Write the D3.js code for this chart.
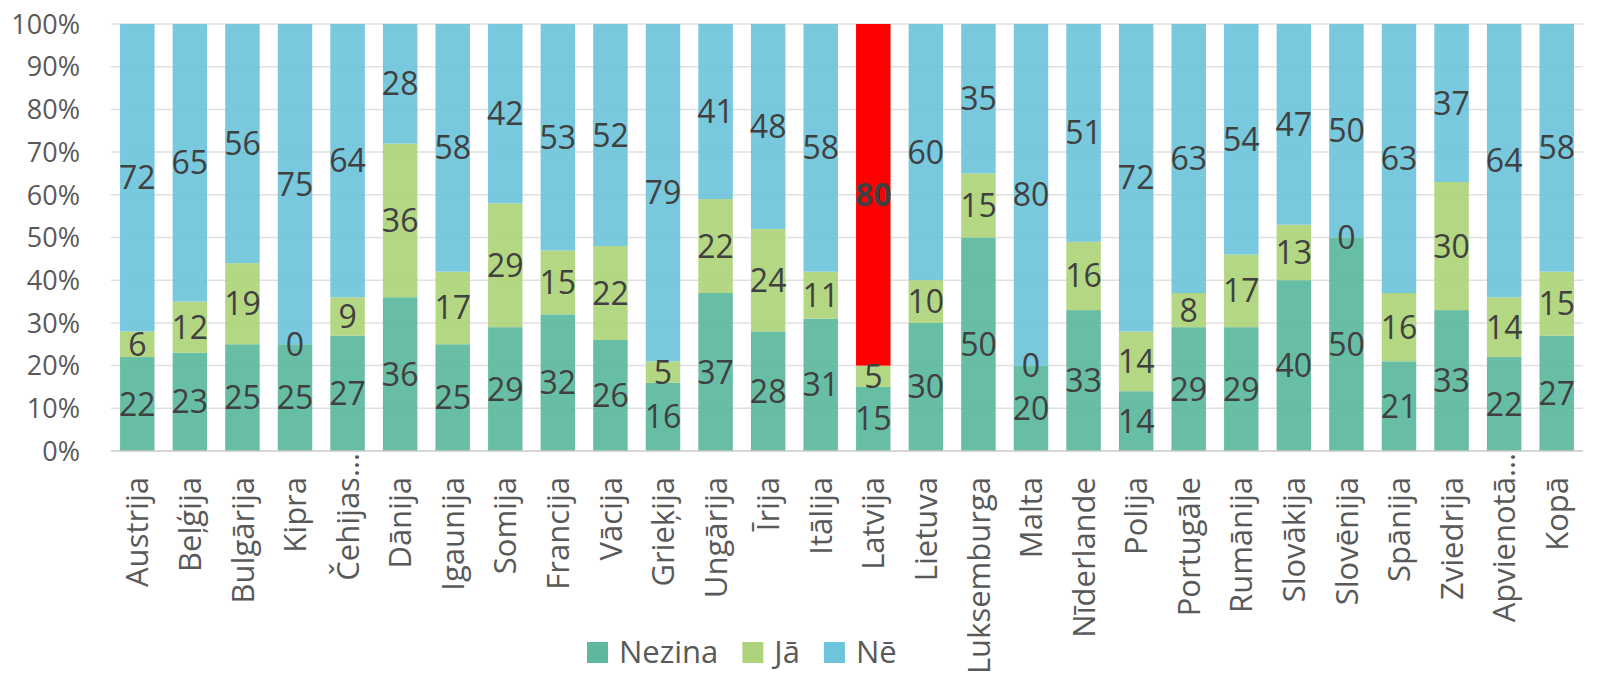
<!DOCTYPE html>
<html>
<head>
<meta charset="utf-8">
<script src="https://cdn.jsdelivr.net/npm/d3@7"></script>
<style>
  html, body { margin: 0; padding: 0; background: #fff; }
  svg { display: block; font-family: "Open Sans", "Noto Sans", sans-serif; }
</style>
</head>
<body>
<svg id="chart" width="1621" height="676"></svg>
<script>
// ---- data ----
const categories = ["Austrija","Beļģija","Bulgārija","Kipra","Čehijas…","Dānija","Igaunija","Somija","Francija","Vācija","Grieķija","Ungārija","Īrija","Itālija","Latvija","Lietuva","Luksemburga","Malta","Nīderlande","Polija","Portugāle","Rumānija","Slovākija","Slovēnija","Spānija","Zviedrija","Apvienotā…","Kopā"];
const nezina = [22,23,25,25,27,36,25,29,32,26,16,37,28,31,15,30,50,20,33,14,29,29,40,50,21,33,22,27];
const ja     = [6,12,19,0,9,36,17,29,15,22,5,22,24,11,5,10,15,0,16,14,8,17,13,0,16,30,14,15];
const ne     = [72,65,56,75,64,28,58,42,53,52,79,41,48,58,80,60,35,80,51,72,63,54,47,50,63,37,64,58];
const seriesNames = ["Nezina","Jā","Nē"];
const yTicks = [0,10,20,30,40,50,60,70,80,90,100];
const highlight = "Latvija";

(function () {
// ---- styles ----
const colors = {"Nezina":"#5db89e","Jā":"#aed47b","Nē":"#6ec4db"};
const highlightColor = "#ff0000";

const svg = d3.select("#chart");
const pLeft = 111, pRight = 1583, pTop = 24, pBottom = 451;

const x = d3.scaleBand().domain(categories).range([pLeft, pRight]).paddingInner(0.344).paddingOuter(0.172);
const y = d3.scaleLinear().domain([0, 100]).range([pBottom, pTop]);

const rows = categories.map((c, i) => ({cat: c, "Nezina": nezina[i], "Jā": ja[i], "Nē": ne[i]}));
const stacked = d3.stack().keys(seriesNames)(rows);

// gridlines
svg.append("g").selectAll("line").data(yTicks.filter(t => t > 0)).join("line")
  .attr("x1", pLeft).attr("x2", pRight)
  .attr("y1", d => y(d)).attr("y2", d => y(d))
  .attr("stroke", "#e0e0e0").attr("stroke-width", 1.5);

const isHi = (key, d) => key === "Nē" && d.data.cat === highlight;

// bars
const gBars = svg.append("g");
stacked.forEach(layer => {
  gBars.append("g").selectAll("rect").data(layer).join("rect")
    .attr("x", d => x(d.data.cat))
    .attr("width", x.bandwidth())
    .attr("y", d => y(d[1]))
    .attr("height", d => y(d[0]) - y(d[1]))
    .attr("fill", d => isHi(layer.key, d) ? highlightColor : colors[layer.key])
    .attr("fill-opacity", d => isHi(layer.key, d) ? 1 : 0.93);
});

// baseline axis
svg.append("line").attr("x1", pLeft).attr("x2", pRight).attr("y1", pBottom).attr("y2", pBottom)
  .attr("stroke", "#c8c8c8").attr("stroke-width", 1.5);

// data labels
const gLab = svg.append("g");
stacked.forEach(layer => {
  gLab.append("g").selectAll("text").data(layer).join("text")
    .attr("x", d => x(d.data.cat) + x.bandwidth() / 2)
    .attr("y", d => y((d[0] + d[1]) / 2))
    .attr("dy", "0.36em")
    .attr("text-anchor", "middle")
    .attr("font-size", 32)
    .attr("font-weight", d => isHi(layer.key, d) ? "bold" : "normal")
    .attr("fill", "#404040")
    .text(d => d.data[layer.key]);
});

// y axis labels
svg.append("g").selectAll("text").data(yTicks).join("text")
  .attr("x", 80).attr("y", d => y(d)).attr("dy", "0.36em")
  .attr("text-anchor", "end").attr("font-size", 27).attr("fill", "#595959")
  .text(d => d + "%");

// category labels
svg.append("g").selectAll("text").data(categories).join("text")
  .attr("transform", d => {
    const cx = x(d) + x.bandwidth() / 2;
    const ty = d.endsWith("…") ? 453 : 477;
    return `translate(${cx},${ty}) rotate(-90)`;
  })
  .attr("dy", "0.36em")
  .attr("text-anchor", "end").attr("font-size", 31).attr("fill", "#595959")
  .text(d => d);

// legend
const leg = svg.append("g");
let lx = 587;
seriesNames.forEach(name => {
  leg.append("rect").attr("x", lx).attr("y", 642).attr("width", 21).attr("height", 21).attr("fill", colors[name]);
  const t = leg.append("text").attr("x", lx + 32).attr("y", 663)
    .attr("font-size", 31).attr("fill", "#595959").text(name);
  lx += 32 + t.node().getComputedTextLength() + 24;
});
})();
</script>
</body>
</html>
